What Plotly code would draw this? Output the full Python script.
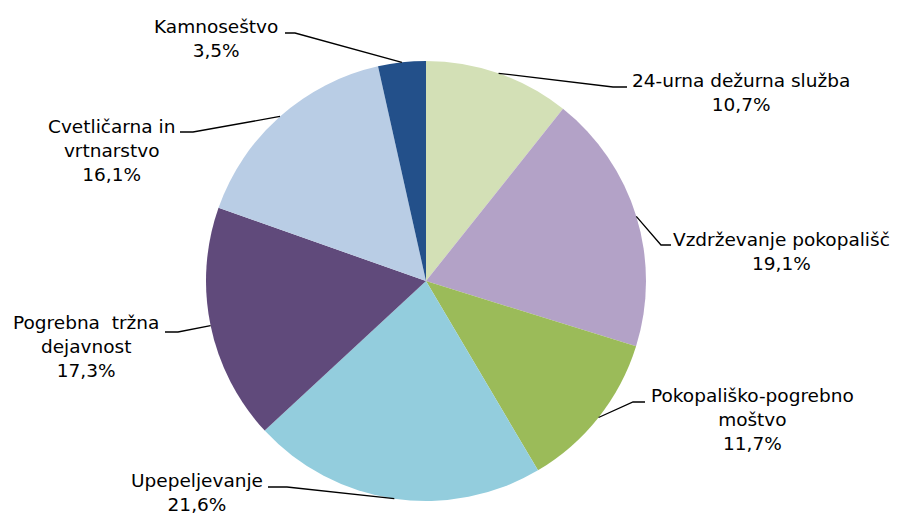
import math
import plotly.graph_objects as go

# ---- data ----
categories = ["24-urna dežurna služba", "Vzdrževanje pokopališč", "Pokopališko-pogrebno moštvo",
              "Upepeljevanje", "Pogrebna  tržna dejavnost", "Cvetličarna in vrtnarstvo", "Kamnoseštvo"]
label_lines = [["24-urna dežurna služba"], ["Vzdrževanje pokopališč"], ["Pokopališko-pogrebno", "moštvo"],
               ["Upepeljevanje"], ["Pogrebna\u00a0 tržna", "dejavnost"], ["Cvetličarna in", "vrtnarstvo"],
               ["Kamnoseštvo"]]
values = [10.7, 19.1, 11.7, 21.6, 17.3, 16.1, 3.5]
colors = ["#D3E0B6", "#B3A2C7", "#9BBB59", "#93CDDD", "#604A7B", "#B9CDE5", "#23508A"]

# ---- layout (page pixels; the HTML body adds an 8px margin) ----
W, H = 900, 515
BODY = 8
CX, CY, R = 426, 281, 220
ML, MT = CX - R - BODY, CY - R - BODY
MR, MB = W - (CX + R - BODY), H - (CY + R - BODY)

# label block centre, elbow point, end of horizontal segment (page pixels)
label_center = [(741, 92), (781, 251), (752, 419), (197, 492), (86, 346), (111, 150), (216, 39)]
elbow = [(613, 87), (661, 245), (633, 402), (287, 487), (178, 332), (193, 132), (295, 33)]
hend = [(627, 87), (671, 245), (645, 402), (268, 487), (165, 332), (180, 132), (285, 33)]


def px(x):
    return (x - (CX - R)) / (2 * R)


def py(y):
    return 1 - (y - (CY - R)) / (2 * R)


fig = go.Figure(go.Pie(
    labels=categories, values=values, sort=False, direction="clockwise", rotation=0,
    marker=dict(colors=colors, line=dict(width=0)), textinfo="none", hoverinfo="label+percent",
    showlegend=False,
))

total = sum(values)
cum = 0
shapes = []
annotations = []
for i, v in enumerate(values):
    mid = (cum + v / 2) / total * 2 * math.pi
    cum += v
    ax = CX + R * math.sin(mid)
    ay = CY - R * math.cos(mid)
    ex, ey = elbow[i]
    hx, hy = hend[i]
    shapes.append(dict(type="path", xref="paper", yref="paper",
                       path=f"M {px(ax)} {py(ay)} L {px(ex)} {py(ey)} L {px(hx)} {py(hy)}",
                       line=dict(color="black", width=1.3)))
    pct = f"{v:.1f}".replace(".", ",") + "%"
    text = "<br>".join(label_lines[i] + [pct])
    lx, ly = label_center[i]
    annotations.append(dict(x=px(lx), y=py(ly), xref="paper", yref="paper", text=text,
                            showarrow=False, xanchor="center", yanchor="middle", align="center",
                            font=dict(family="DejaVu Sans", size=18.5, color="black")))

fig.update_layout(
    width=W, height=H, margin=dict(l=ML, r=MR, t=MT, b=MB, pad=0),
    paper_bgcolor="white", plot_bgcolor="white",
    shapes=shapes, annotations=annotations,
)
fig.write_html("out.html")
